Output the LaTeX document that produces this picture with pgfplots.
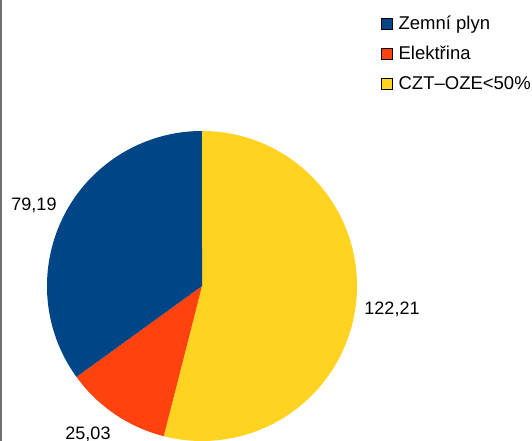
\documentclass[border=0pt]{standalone}
\usepackage{fontspec}
\setmainfont{Liberation Sans}
\usepackage{pgfplots}
\usepackage{pgfplotstable}
\pgfplotsset{compat=1.18}
\definecolor{zblue}{HTML}{004586}
\definecolor{zorange}{HTML}{FF420E}
\definecolor{zyellow}{HTML}{FFD320}
\definecolor{edgegray}{HTML}{707070}
\pgfplotstableread{
name value
Zemni 79.19
Elektrina 25.03
CZT 122.21
}\piedata
\pgfplotstablegetelem{0}{value}\of\piedata \let\vA\pgfplotsretval
\pgfplotstablegetelem{1}{value}\of\piedata \let\vB\pgfplotsretval
\pgfplotstablegetelem{2}{value}\of\piedata \let\vC\pgfplotsretval
\pgfmathsetmacro{\tot}{\vA+\vB+\vC}
\pgfmathsetmacro{\aY}{90-360*(\vC/\tot)}
\pgfmathsetmacro{\aO}{\aY-360*(\vB/\tot)}
\pgfmathsetmacro{\aB}{\aO-360*(\vA/\tot)}
\begin{document}
\begin{tikzpicture}
\begin{axis}[
  width=532pt, height=441pt, scale only axis,
  xmin=0, xmax=532, ymin=0, ymax=441,
  hide axis, clip=true,
  legend image code/.code={\fill[#1] (0pt,0pt) rectangle (10.5pt,10.5pt);},
  legend style={at={(axis cs:381,441-16)}, anchor=north west, draw=none, fill=none,
    font=\fontsize{18.5}{21}\selectfont, inner sep=0pt,
    nodes={inner sep=0pt, anchor=base west, text height=13pt, text depth=4pt},
    column sep=6.5pt, row sep=13pt},
  legend cell align=left,
]
\fill[white] (axis cs:0,0) rectangle (axis cs:532,441);
\fill[edgegray] (axis cs:0,0) rectangle (axis cs:1.6,441);
\addlegendimage{fill=zblue}
\addlegendentry{Zemní plyn}
\addlegendimage{fill=zorange}
\addlegendentry{Elektřina}
\addlegendimage{fill=zyellow}
\addlegendentry{CZT–OZE<50\%}
\fill[zyellow] (axis cs:202,155) -- ++(90:155pt) arc[start angle=90, end angle=\aY, radius=155pt] -- cycle;
\fill[zorange] (axis cs:202,155) -- ++(\aY:155pt) arc[start angle=\aY, end angle=\aO, radius=155pt] -- cycle;
\fill[zblue] (axis cs:202,155) -- ++(\aO:155pt) arc[start angle=\aO, end angle=\aB, radius=155pt] -- cycle;
\node[font=\fontsize{18}{21}\selectfont] at (axis cs:34,236) {79,19};
\node[font=\fontsize{18}{21}\selectfont] at (axis cs:392,132) {122,21};
\node[font=\fontsize{18}{21}\selectfont] at (axis cs:88,6.5) {25,03};
\end{axis}
\end{tikzpicture}
\end{document}
